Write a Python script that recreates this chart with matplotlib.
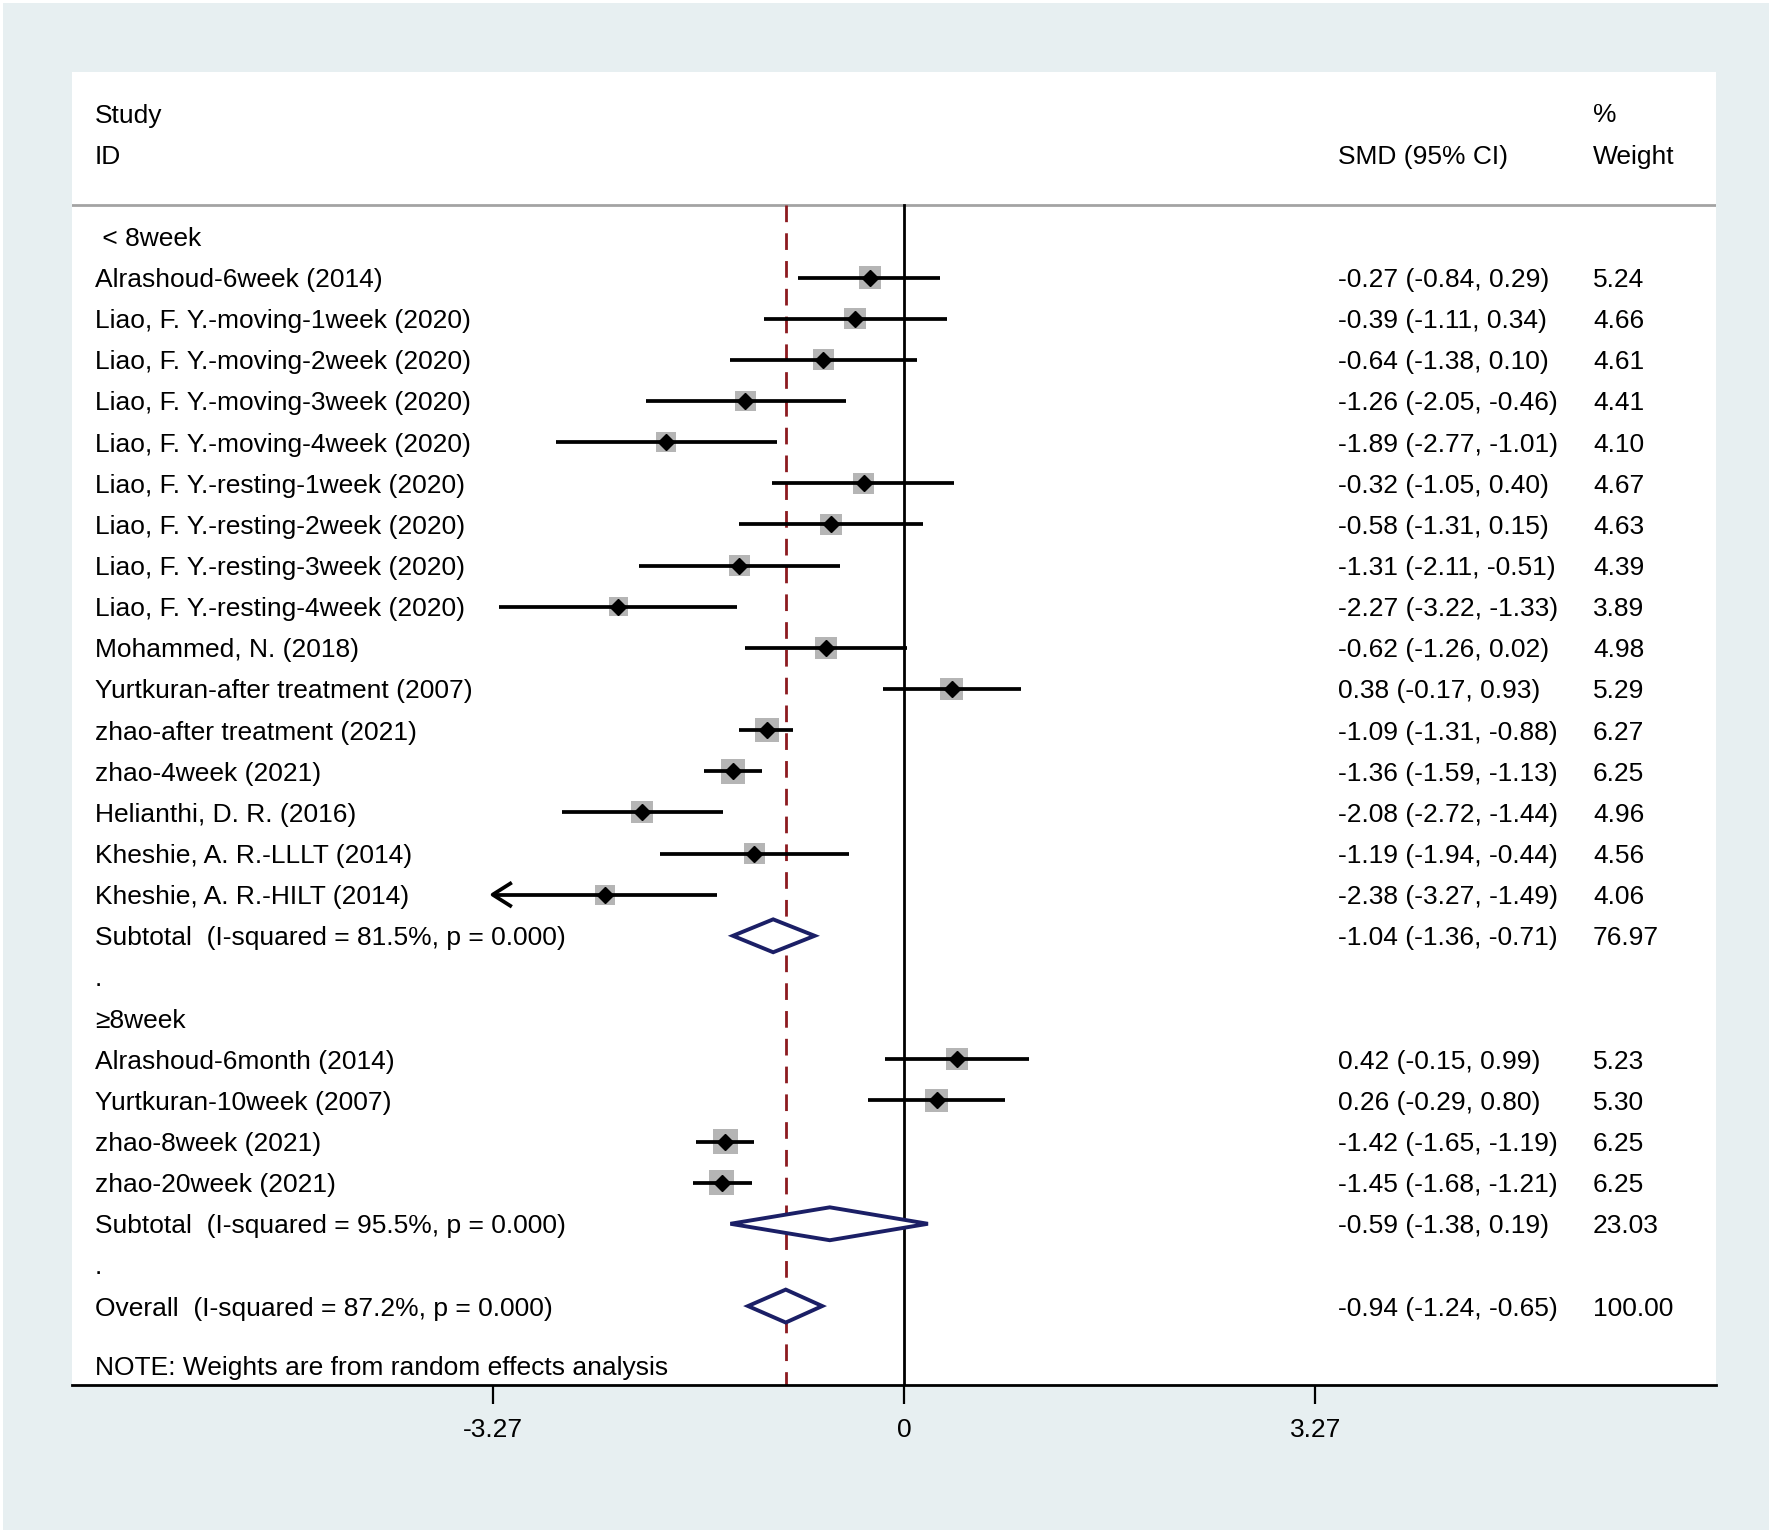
import numpy as np
import matplotlib.pyplot as plt
from matplotlib.patches import Rectangle

# Data
group1_labels = ['Alrashoud-6week (2014)', 'Liao, F. Y.-moving-1week (2020)',
                 'Liao, F. Y.-moving-2week (2020)', 'Liao, F. Y.-moving-3week (2020)',
                 'Liao, F. Y.-moving-4week (2020)', 'Liao, F. Y.-resting-1week (2020)',
                 'Liao, F. Y.-resting-2week (2020)', 'Liao, F. Y.-resting-3week (2020)',
                 'Liao, F. Y.-resting-4week (2020)', 'Mohammed, N. (2018)',
                 'Yurtkuran-after treatment (2007)', 'zhao-after treatment (2021)',
                 'zhao-4week (2021)', 'Helianthi, D. R. (2016)',
                 'Kheshie, A. R.-LLLT (2014)', 'Kheshie, A. R.-HILT (2014)']
group1_est = [-0.27, -0.39, -0.64, -1.26, -1.89, -0.32, -0.58, -1.31, -2.27,
              -0.62, 0.38, -1.09, -1.36, -2.08, -1.19, -2.38]
group1_lo = [-0.84, -1.11, -1.38, -2.05, -2.77, -1.05, -1.31, -2.11, -3.22,
             -1.26, -0.17, -1.31, -1.59, -2.72, -1.94, -3.27]
group1_hi = [0.29, 0.34, 0.10, -0.46, -1.01, 0.40, 0.15, -0.51, -1.33,
             0.02, 0.93, -0.88, -1.13, -1.44, -0.44, -1.49]
group1_w = [5.24, 4.66, 4.61, 4.41, 4.10, 4.67, 4.63, 4.39, 3.89,
            4.98, 5.29, 6.27, 6.25, 4.96, 4.56, 4.06]

group2_labels = ['Alrashoud-6month (2014)', 'Yurtkuran-10week (2007)',
                 'zhao-8week (2021)', 'zhao-20week (2021)']
group2_est = [0.42, 0.26, -1.42, -1.45]
group2_lo = [-0.15, -0.29, -1.65, -1.68]
group2_hi = [0.99, 0.80, -1.19, -1.21]
group2_w = [5.23, 5.30, 6.25, 6.25]

sub1 = (-1.04, -1.36, -0.71, 76.97, 'Subtotal  (I-squared = 81.5%, p = 0.000)')
sub2 = (-0.59, -1.38, 0.19, 23.03, 'Subtotal  (I-squared = 95.5%, p = 0.000)')
overall = (-0.94, -1.24, -0.65, 100.00, 'Overall  (I-squared = 87.2%, p = 0.000)')
# CI truncated at the axis end gets an arrow
arrow_rows = ['Kheshie, A. R.-HILT (2014)']

xticks = [-3.27, 0, 3.27]
xtick_labels = ['-3.27', '0', '3.27']

plt.rcParams['font.family'] = ['Liberation Sans', 'DejaVu Sans']
FS = 19
BG = '#e7eff1'
NAVY = '#1b1f66'
RED = '#8c1a1f'

W, H = 1772, 1533
fig = plt.figure(figsize=(W / 100, H / 100), dpi=100, facecolor='white')
fig.patches.append(Rectangle((3 / W, 3 / H), 1 - 6 / W, 1 - 6 / H,
                             transform=fig.transFigure, facecolor=BG,
                             edgecolor='none', zorder=-10))

# panel in pixels: left 72, right 1716, top 72, bottom 1385
ax = fig.add_axes([72 / W, 1 - 1385 / H, (1716 - 72) / W, (1385 - 72) / H])
ax.set_facecolor('white')
px_per_unit = 125.8
ax.set_xlim((72 - 904) / px_per_unit, (1716 - 904) / px_per_unit)
row_h = 41.14
ax.set_ylim((1385 - 113) / row_h, (72 - 113) / row_h)

for s in ['top', 'left', 'right']:
    ax.spines[s].set_visible(False)
ax.spines['bottom'].set_linewidth(2.0)
ax.set_yticks([])
ax.set_xticks(xticks)
ax.set_xticklabels(xtick_labels, fontsize=FS)
ax.tick_params(axis='x', length=14, width=1.6, pad=10)

xt_left = (95 - 904) / px_per_unit
xt_smd = (1338 - 904) / px_per_unit
xt_w = (1593 - 904) / px_per_unit


def txt(x, y, s):
    ax.text(x, y, s, fontsize=FS, ha='left', va='center_baseline', color='black')


# header
txt(xt_left, 0, 'Study')
txt(xt_left, 1, 'ID')
txt(xt_w, 0, '%')
txt(xt_smd, 1, 'SMD (95% CI)')
txt(xt_w, 1, 'Weight')
sep = (204.5 - 113) / row_h
ax.axhline(sep, color='#a3a3a3', lw=2.0)

ybot = ax.get_ylim()[0]
ax.plot([0, 0], [sep, ybot], color='black', lw=2.0, zorder=2)
ax.plot([overall[0], overall[0]], [sep, ybot], color=RED, lw=2.0,
        dashes=(6, 4), zorder=2)

clip_lo = xticks[0]


def study(row, label, est, lo, hi, w):
    txt(xt_left, row, label)
    txt(xt_smd, row, f'{est:.2f} ({lo:.2f}, {hi:.2f})')
    txt(xt_w, row, f'{w:.2f}')
    ax.scatter([est], [row], marker='s', s=(7.1 * np.sqrt(w)) ** 2,
               color='#b5b5b5', edgecolors='none', zorder=3)
    start = max(lo, clip_lo)
    ax.plot([start, hi], [row, row], color='black', lw=2.7, zorder=4,
            solid_capstyle='butt')
    if label in arrow_rows:
        ax.plot([start + 0.14, start, start + 0.14], [row - 0.27, row, row + 0.27],
                color='black', lw=2.7, zorder=4)
    ax.plot([est], [row], marker='D', ms=8, color='black', zorder=5)


def pooled(row, vals):
    est, lo, hi, w, label = vals
    txt(xt_left, row, label)
    txt(xt_smd, row, f'{est:.2f} ({lo:.2f}, {hi:.2f})')
    txt(xt_w, row, f'{w:.2f}')
    ax.fill([lo, est, hi, est], [row, row - 0.4, row, row + 0.4],
            facecolor='white', edgecolor=NAVY, lw=2.8, zorder=3)


row = 3
txt(xt_left, row, ' < 8week')
for i in range(len(group1_labels)):
    row += 1
    study(row, group1_labels[i], group1_est[i], group1_lo[i], group1_hi[i], group1_w[i])
row += 1
pooled(row, sub1)
row += 1
txt(xt_left, row, '.')
row += 1
txt(xt_left, row, '\u22658week')
for i in range(len(group2_labels)):
    row += 1
    study(row, group2_labels[i], group2_est[i], group2_lo[i], group2_hi[i], group2_w[i])
row += 1
pooled(row, sub2)
row += 1
txt(xt_left, row, '.')
row += 1
pooled(row, overall)
txt(xt_left, row + 1.45, 'NOTE: Weights are from random effects analysis')

fig.savefig('out.png', dpi=100, facecolor='white')
